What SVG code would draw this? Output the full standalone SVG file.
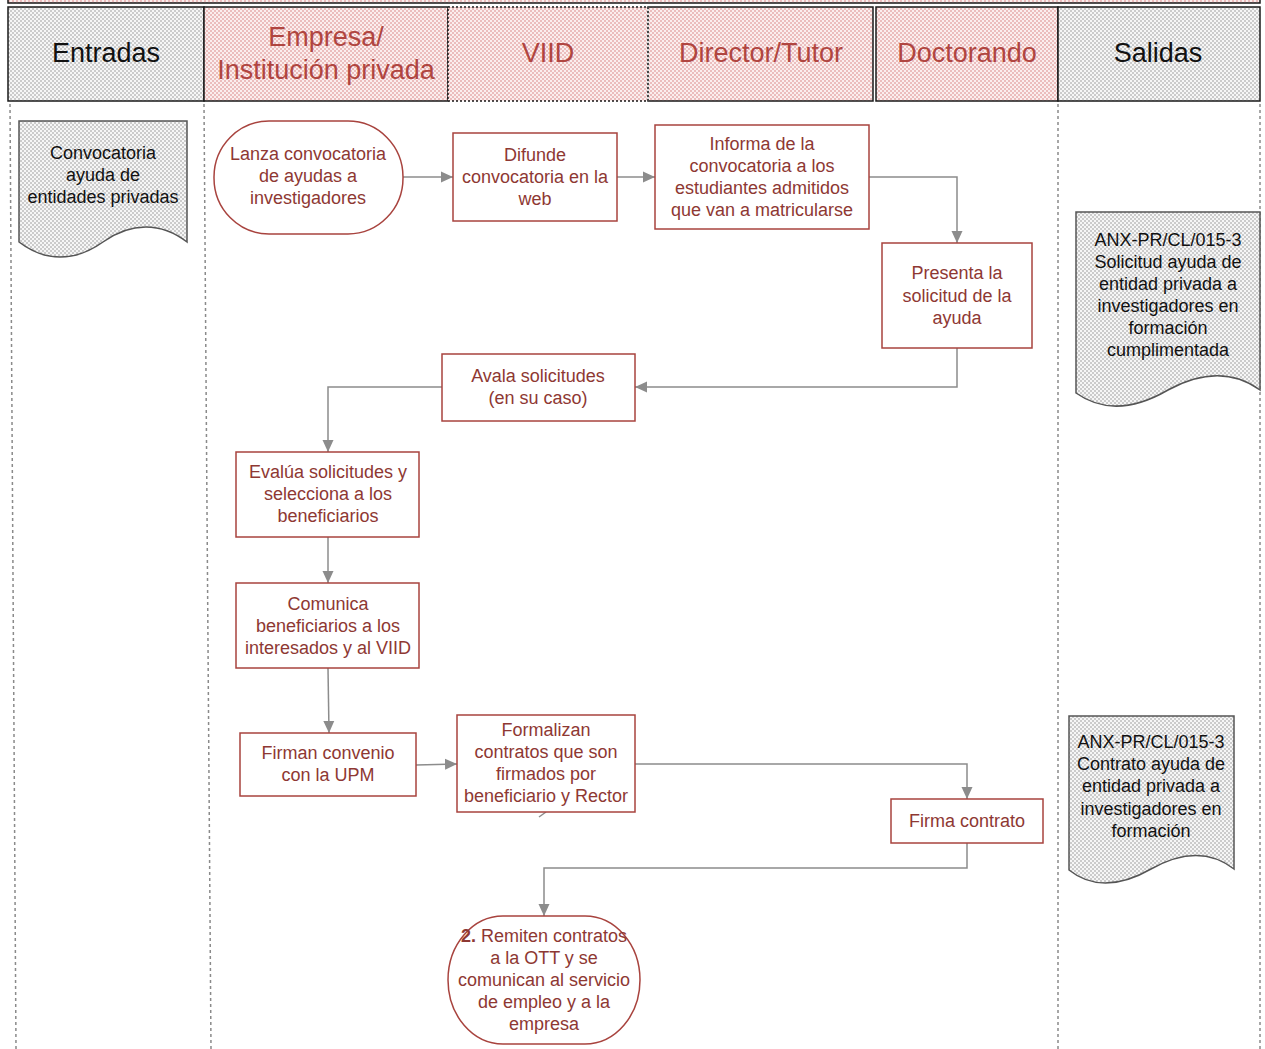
<svg xmlns="http://www.w3.org/2000/svg" width="1265" height="1049" viewBox="0 0 1265 1049">
<defs>
<pattern id="pg" width="4" height="4" patternUnits="userSpaceOnUse">
<rect width="4" height="4" fill="#f6f6f6"/>
<rect width="2" height="2" fill="#cbcbcb"/>
<rect x="2" y="2" width="2" height="2" fill="#cbcbcb"/>
</pattern>
<pattern id="pp" width="4" height="4" patternUnits="userSpaceOnUse">
<rect width="4" height="4" fill="#fbeeee"/>
<rect width="2" height="2" fill="#ebbdbd"/>
<rect x="2" y="2" width="2" height="2" fill="#ebbdbd"/>
</pattern>
<marker id="ah" markerUnits="userSpaceOnUse" markerWidth="13" markerHeight="13" refX="12" refY="6.5" orient="auto">
<path d="M0,1 L12,6.5 L0,12 z" fill="#8c8c8c"/>
</marker>
</defs>
<style>
.hd{stroke:#1a1a1a;stroke-width:1.5}
.hdot{stroke:#1a1a1a;stroke-width:1.5;stroke-dasharray:2 2}
.ht{font-family:"Liberation Sans",Arial,sans-serif;font-size:27px;text-anchor:middle}
.hr{fill:#b04540}
.hb{fill:#111}
.lane{stroke:#8a8a8a;stroke-width:1.5;stroke-dasharray:3 3;fill:none}
.nd{fill:#fff;stroke:#a8433e;stroke-width:1.5}
.nt{font-family:"Liberation Sans",Arial,sans-serif;font-size:18px;fill:#8e3833;text-anchor:middle}
.doc{fill:url(#pg);stroke:#555;stroke-width:1.5}
.dt{font-family:"Liberation Sans",Arial,sans-serif;font-size:18px;fill:#111;text-anchor:middle}
.cn{fill:none;stroke:#8c8c8c;stroke-width:1.5}
</style>

<g id="header">
<rect x="8" y="-6" width="1252" height="9" fill="url(#pp)" class="hd"/>
<rect x="8" y="7" width="196" height="94" fill="url(#pg)" class="hd"/>
<rect x="204" y="7" width="244" height="94" fill="url(#pp)" class="hd"/>
<rect x="448" y="7" width="200" height="94" fill="url(#pp)" class="hdot"/>
<rect x="648" y="7" width="225" height="94" fill="url(#pp)" class="hd"/>
<line x1="648" y1="7" x2="648" y2="101" stroke="#fff" stroke-width="1.6"/>
<line x1="648" y1="7" x2="648" y2="101" class="hdot"/>
<rect x="876" y="7" width="182" height="94" fill="url(#pp)" class="hd"/>
<rect x="1058" y="7" width="202" height="94" fill="url(#pg)" class="hd"/>
<text class="ht hb" x="106" y="62">Entradas</text>
<text class="ht hr" x="326" y="46">Empresa/</text>
<text class="ht hr" x="326" y="79">Institución privada</text>
<text class="ht hr" x="548" y="62">VIID</text>
<text class="ht hr" x="761" y="62">Director/Tutor</text>
<text class="ht hr" x="967" y="62">Doctorando</text>
<text class="ht hb" x="1158" y="62">Salidas</text>
</g>

<g id="lanes">
<line class="lane" x1="10" y1="104" x2="16" y2="1049"/>
<line class="lane" x1="204" y1="104" x2="211" y2="1049"/>
<line class="lane" x1="1058" y1="104" x2="1058" y2="1049"/>
<line class="lane" x1="1260" y1="104" x2="1260" y2="1049"/>
</g>

<g id="connectors">
<path class="cn" d="M403,177 L453,177" marker-end="url(#ah)"/>
<path class="cn" d="M617,177 L655,177" marker-end="url(#ah)"/>
<path class="cn" d="M869,177 L957,177 L957,243" marker-end="url(#ah)"/>
<path class="cn" d="M957,348 L957,387 L635,387" marker-end="url(#ah)"/>
<path class="cn" d="M442,387 L328,387 L328,452" marker-end="url(#ah)"/>
<path class="cn" d="M328,537 L328,583" marker-end="url(#ah)"/>
<path class="cn" d="M328,668 L329,733" marker-end="url(#ah)"/>
<path class="cn" d="M416,765 L457,764" marker-end="url(#ah)"/>
<path class="cn" d="M635,764 L967,764 L967,799" marker-end="url(#ah)"/>
<path class="cn" d="M967,843 L967,868 L544,868 L544,916" marker-end="url(#ah)"/>
<path class="cn" d="M539,817 L546,812"/>
</g>

<g id="doc-convocatoria">
<path class="doc" d="M19,121 L187,121 L187,242 C161,222 131,222 103,242 C75,262 45,262 19,242 Z"/>
<text class="dt" x="103" y="159">Convocatoria</text>
<text class="dt" x="103" y="181">ayuda de</text>
<text class="dt" x="103" y="203">entidades privadas</text>
</g>

<g id="n-lanza">
<rect class="nd" x="214" y="121" width="189" height="113" rx="55" ry="56"/>
<text class="nt" x="308" y="160">Lanza convocatoria</text>
<text class="nt" x="308" y="182">de ayudas a</text>
<text class="nt" x="308" y="204">investigadores</text>
</g>

<g id="n-difunde">
<rect class="nd" x="453" y="133" width="164" height="88"/>
<text class="nt" x="535" y="161">Difunde</text>
<text class="nt" x="535" y="183">convocatoria en la</text>
<text class="nt" x="535" y="205">web</text>
</g>

<g id="n-informa">
<rect class="nd" x="655" y="125" width="214" height="104"/>
<text class="nt" x="762" y="150">Informa de la</text>
<text class="nt" x="762" y="172">convocatoria a los</text>
<text class="nt" x="762" y="194">estudiantes admitidos</text>
<text class="nt" x="762" y="216">que van a matricularse</text>
</g>

<g id="n-presenta">
<rect class="nd" x="882" y="243" width="150" height="105"/>
<text class="nt" x="957" y="279">Presenta la</text>
<text class="nt" x="957" y="302">solicitud de la</text>
<text class="nt" x="957" y="324">ayuda</text>
</g>

<g id="n-avala">
<rect class="nd" x="442" y="354" width="193" height="67"/>
<text class="nt" x="538" y="382">Avala solicitudes</text>
<text class="nt" x="538" y="404">(en su caso)</text>
</g>

<g id="n-evalua">
<rect class="nd" x="236" y="452" width="183" height="85"/>
<text class="nt" x="328" y="478">Evalúa solicitudes y</text>
<text class="nt" x="328" y="500">selecciona a los</text>
<text class="nt" x="328" y="522">beneficiarios</text>
</g>

<g id="n-comunica">
<rect class="nd" x="236" y="583" width="183" height="85"/>
<text class="nt" x="328" y="610">Comunica</text>
<text class="nt" x="328" y="632">beneficiarios a los</text>
<text class="nt" x="328" y="654">interesados y al VIID</text>
</g>

<g id="n-firman">
<rect class="nd" x="240" y="733" width="176" height="63"/>
<text class="nt" x="328" y="759">Firman convenio</text>
<text class="nt" x="328" y="781">con la UPM</text>
</g>

<g id="n-formalizan">
<rect class="nd" x="457" y="715" width="178" height="97"/>
<text class="nt" x="546" y="736">Formalizan</text>
<text class="nt" x="546" y="758">contratos que son</text>
<text class="nt" x="546" y="780">firmados por</text>
<text class="nt" x="546" y="802">beneficiario y Rector</text>
</g>

<g id="n-firma">
<rect class="nd" x="891" y="799" width="152" height="44"/>
<text class="nt" x="967" y="827">Firma contrato</text>
</g>

<g id="n-remiten">
<rect class="nd" x="448" y="916" width="192" height="128" rx="55" ry="64"/>
<text class="nt" x="544" y="942"><tspan font-weight="bold">2.</tspan> Remiten contratos</text>
<text class="nt" x="544" y="964">a la OTT y se</text>
<text class="nt" x="544" y="986">comunican al servicio</text>
<text class="nt" x="544" y="1008">de empleo y a la</text>
<text class="nt" x="544" y="1030">empresa</text>
</g>

<g id="doc-solicitud">
<path class="doc" d="M1076,212 L1260,212 L1260,390 C1235,372 1205,370 1168,390 C1130,412 1100,410 1076,393 Z"/>
<text class="dt" x="1168" y="246">ANX-PR/CL/015-3</text>
<text class="dt" x="1168" y="268">Solicitud ayuda de</text>
<text class="dt" x="1168" y="290">entidad privada a</text>
<text class="dt" x="1168" y="312">investigadores en</text>
<text class="dt" x="1168" y="334">formación</text>
<text class="dt" x="1168" y="356">cumplimentada</text>
</g>

<g id="doc-contrato">
<path class="doc" d="M1069,716 L1234,716 L1234,869 C1212,852 1185,850 1151,869 C1118,888 1090,887 1069,870 Z"/>
<text class="dt" x="1151" y="748">ANX-PR/CL/015-3</text>
<text class="dt" x="1151" y="770">Contrato ayuda de</text>
<text class="dt" x="1151" y="792">entidad privada a</text>
<text class="dt" x="1151" y="815">investigadores en</text>
<text class="dt" x="1151" y="837">formación</text>
</g>
</svg>
